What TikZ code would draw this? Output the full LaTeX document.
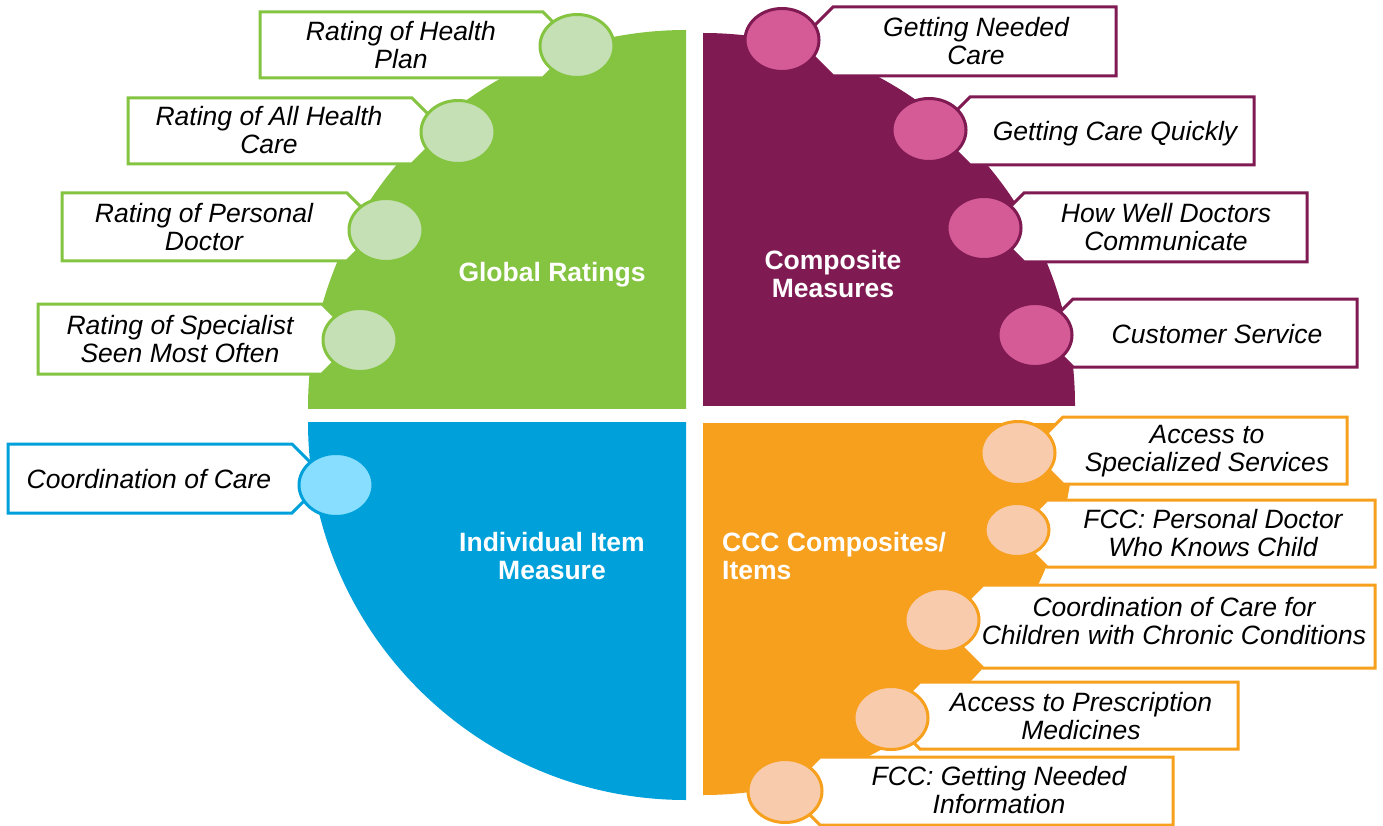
\documentclass[tikz,border=0pt]{standalone}
\usepackage{fontspec}
\setmainfont{Liberation Sans}
\usetikzlibrary{shapes.geometric}
\definecolor{gdark}{RGB}{132,196,65}
\definecolor{glight}{RGB}{197,224,180}
\definecolor{pdark}{RGB}{127,26,82}
\definecolor{plight}{RGB}{213,91,151}
\definecolor{bdark}{RGB}{0,161,219}
\definecolor{blight}{RGB}{135,222,255}
\definecolor{odark}{RGB}{247,160,30}
\definecolor{olight}{RGB}{248,203,173}
\newcommand\callL[5]{\draw[line width=3pt, draw=#1, fill=white, line join=miter] (#2,#3) -- (#5,#3) -- ({#5+25},{#3+25}) -- ({#5+25},{#4-25}) -- (#5,#4) -- (#2,#4) -- cycle;}
\newcommand\callR[5]{\draw[line width=3pt, draw=#1, fill=white, line join=miter] (#2,#3) -- (#5,#3) -- ({#5-25},{#3+25}) -- ({#5-25},{#4-25}) -- (#5,#4) -- (#2,#4) -- cycle;}
\tikzset{
  dot/.style={ellipse, line width=3pt, minimum width=74pt, minimum height=63pt, inner sep=0pt},
  dotg/.style={dot, draw=gdark, fill=glight},
  dotp/.style={dot, draw=pdark, fill=plight},
  dotb/.style={dot, draw=bdark, fill=blight},
  doto/.style={dot, draw=odark, fill=olight},
  ct/.style={font=\fontsize{26.5}{27.5}\selectfont\itshape, align=center, inner sep=0pt, text=black},
  lab/.style={font=\fontsize{26.5}{28}\selectfont\bfseries, align=center, inner sep=0pt, text=white}
}
\begin{document}
\begin{tikzpicture}[x=1pt,y=-1pt]
\useasboundingbox (0,0) rectangle (1383,826);
\fill[white] (0,0) rectangle (1383,826);
% quarter shapes
\begin{scope}\clip (308,30) rectangle (686,408); \fill[gdark] (686,408) circle[radius=378]; \end{scope}
\begin{scope}\clip (703,33) rectangle (1075,405); \fill[pdark] (703,405) circle[radius=372]; \end{scope}
\begin{scope}\clip (308,422) rectangle (686,800); \fill[bdark] (686,422) circle[radius=378]; \end{scope}
\begin{scope}\clip (703,423) rectangle (1075,795); \fill[odark] (703,423) circle[radius=372]; \end{scope}
% labels
\node[lab] (Lg) at (552,275) {Global Ratings};
\node[lab] (Lp) at (833,274) {Composite\\Measures};
\node[lab] (Lb) at (552,556) {Individual Item\\Measure};
\node[lab, anchor=west, align=left] (Lo) at (722,556) {CCC Composites/\\Items};
% green callouts
\callL{gdark}{260}{12}{78}{543}
\callL{gdark}{128}{98}{164}{412}
\callL{gdark}{62}{193}{261}{347}
\callL{gdark}{38}{304}{374}{322}
\node[dotg] (g1) at (577,46) {};
\node[dotg] (g2) at (458,132) {};
\node[dotg] (g3) at (386,230) {};
\node[dotg] (g4) at (360,340) {};
\node[ct] (tg1) at (401,45) {Rating of Health\\Plan};
\node[ct] (tg2) at (269,130) {Rating of All Health\\Care};
\node[ct] (tg3) at (204,227) {Rating of Personal\\Doctor};
\node[ct] (tg4) at (180,339) {Rating of Specialist\\Seen Most Often};
% blue callout
\callL{bdark}{8}{444}{513}{292}
\node[dotb] (b1) at (336,485) {};
\node[ct] (tb1) at (149,479) {Coordination of Care};
% purple callouts
\callR{pdark}{1116}{7}{76}{833}
\callR{pdark}{1254}{97}{165}{970}
\callR{pdark}{1307}{193}{262}{1024}
\callR{pdark}{1357}{299}{367}{1073}
\node[dotp] (p1) at (782,40) {};
\node[dotp] (p2) at (929,130) {};
\node[dotp] (p3) at (984,228) {};
\node[dotp] (p4) at (1035,335) {};
\node[ct] (tp1) at (976,41) {Getting Needed\\Care};
\node[ct] (tp2) at (1115,134) {Getting Care Quickly};
\node[ct] (tp3) at (1166,227) {How Well Doctors\\Communicate};
\node[ct] (tp4) at (1217,334) {Customer Service};
% orange callouts
\callR{odark}{1347}{417}{484}{1063}
\callR{odark}{1375}{500}{567}{1047}
\callR{odark}{1375}{585}{668}{983}
\callR{odark}{1238}{682}{749}{920}
\callR{odark}{1173}{757}{825}{820}
\node[doto] (o1) at (1018,453) {};
\node[doto, minimum width=64pt, minimum height=53pt] (o2) at (1017,530) {};
\node[doto] (o3) at (942,620) {};
\node[doto] (o4) at (891,718) {};
\node[doto] (o5) at (785,791) {};
\node[ct] (to1) at (1207,451) {Access to\\Specialized Services};
\node[ct] (to2) at (1213,533) {FCC: Personal Doctor\\Who Knows Child};
\node[ct] (to3) at (1174,621) {Coordination of Care for\\Children with Chronic Conditions};
\node[ct] (to4) at (1081,716) {Access to Prescription\\Medicines};
\node[ct] (to5) at (999,790) {FCC: Getting Needed\\Information};
\end{tikzpicture}
\end{document}
